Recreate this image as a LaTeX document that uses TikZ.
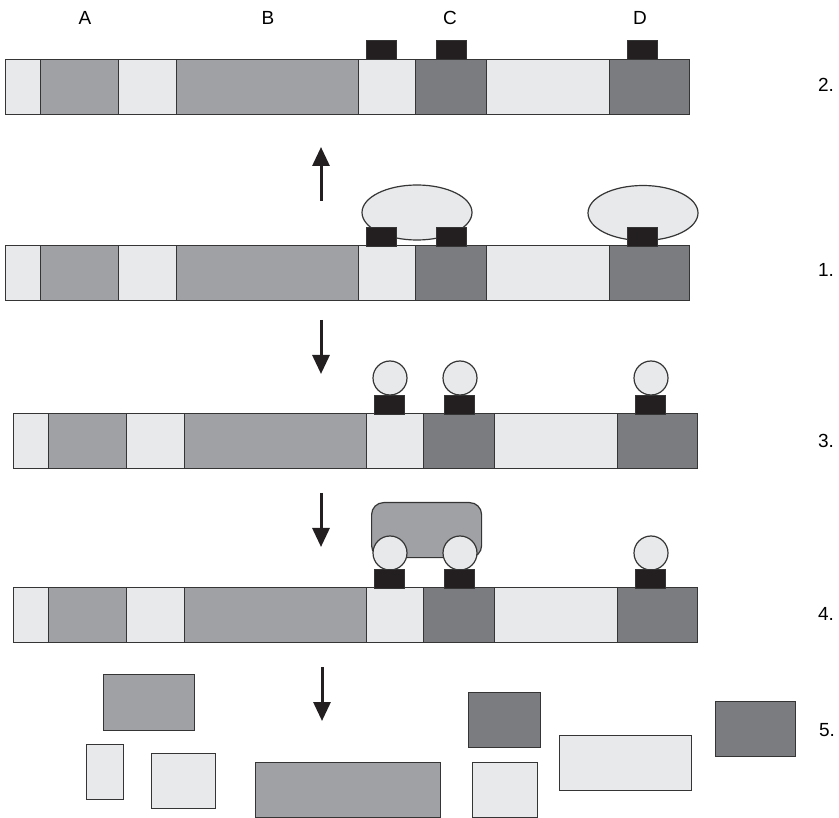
\documentclass[tikz,border=0pt]{standalone}
\usepackage{fontspec}
\setmainfont{Liberation Sans}
\usetikzlibrary{arrows.meta, shapes.geometric}

\definecolor{seglight}{HTML}{E8E9EB}
\definecolor{segmid}{HTML}{A0A1A4}
\definecolor{segdark}{HTML}{7B7C80}
\definecolor{tagblack}{HTML}{231F20}
\definecolor{edge}{HTML}{353535}

\begin{document}
\begin{tikzpicture}[x=1pt, y=-1pt,
    seg/.style={draw=edge, line width=1.2pt, inner sep=0pt, anchor=north west},
    tag/.style={draw=edge, fill=tagblack, line width=0.8pt, inner sep=0pt,
      minimum width=30, minimum height=19, anchor=south west},
    ball/.style={circle, draw=edge, fill=seglight, line width=1.2pt, inner sep=0pt, minimum size=34},
    blob/.style={ellipse, draw=edge, fill=seglight, line width=1.2pt, inner sep=0pt,
      minimum width=110, minimum height=55},
    move/.style={draw=tagblack, line width=3pt, -{Triangle[length=19pt, width=17pt]}},
    lbl/.style={font=\fontsize{19}{22}\selectfont, inner sep=0pt}]
  \useasboundingbox (0,0) rectangle (839,818);

  % the strands, one row per stage
  \foreach \r/\dx/\y in {two/0/59, one/0/245, three/8/413, four/8/587}
    \foreach \i/\x/\w/\c in {1/5/35/seglight, 2/40/78/segmid, 3/118/58/seglight,
        4/176/182/segmid, 5/358/57/seglight, 6/415/71/segdark,
        7/486/123/seglight, 8/609/80/segdark}
      \node[seg, fill=\c, minimum width=\w, minimum height=55] (\r-\i) at (\x+\dx,\y) {};

  % stage 1
  \node[blob] (one-cc) at (417,212.5) {};
  \node[blob] (one-d) at (643,213) {};

  % stage 4
  \node[seg, fill=segmid, rounded corners=12pt, minimum width=110, minimum height=55] (four-cc) at (371,502) {};

  % stages 3 and 4
  \foreach \r/\y in {three/378, four/553}
    \foreach \j/\x in {c1/390, c2/460, d/651}
      \node[ball] (\r-ball-\j) at (\x,\y) {};

  % marks on the strands
  \foreach \r/\dx/\y in {two/0/60, one/0/247, three/8/415, four/8/589}
    \foreach \j/\x in {c1/366, c2/436, d/627}
      \node[tag] (\r-tag-\j) at (\x+\dx,\y) {};

  % pieces
  \node[seg, fill=segmid, minimum width=91, minimum height=56] (bit-a) at (103,674) {};
  \node[seg, fill=seglight, minimum width=37, minimum height=55] (bit-1) at (86,744) {};
  \node[seg, fill=seglight, minimum width=64, minimum height=55] (bit-3) at (151,753) {};
  \node[seg, fill=segmid, minimum width=185, minimum height=55] (bit-b) at (255,762) {};
  \node[seg, fill=segdark, minimum width=72, minimum height=55] (bit-c) at (468,692) {};
  \node[seg, fill=seglight, minimum width=65, minimum height=55] (bit-5) at (472,762) {};
  \node[seg, fill=seglight, minimum width=132, minimum height=55] (bit-7) at (559,735) {};
  \node[seg, fill=segdark, minimum width=80, minimum height=55] (bit-d) at (715,701) {};

  \node[lbl] (lab-a) at (85,18) {A};
  \node[lbl] (lab-b) at (268,18) {B};
  \node[lbl] (lab-c) at (450,18) {C};
  \node[lbl] (lab-d) at (640,18) {D};

  \node[lbl] (st-2) at (826,85) {2.};
  \node[lbl] (st-1) at (826,270) {1.};
  \node[lbl] (st-3) at (826,441) {3.};
  \node[lbl] (st-4) at (826,614) {4.};
  \node[lbl] (st-5) at (827,730) {5.};

  \coordinate (p1) at (321,201);
  \coordinate (q1) at (321,147);
  \coordinate (p2) at (321,320);
  \coordinate (q2) at (321,374);
  \coordinate (p3) at (321,493);
  \coordinate (q3) at (321,547);
  \coordinate (p4) at (322,667);
  \coordinate (q4) at (322,721);

  \draw[move] (p1) -- (q1);
  \draw[move] (p2) -- (q2);
  \draw[move] (p3) -- (q3);
  \draw[move] (p4) -- (q4);
\end{tikzpicture}
\end{document}
